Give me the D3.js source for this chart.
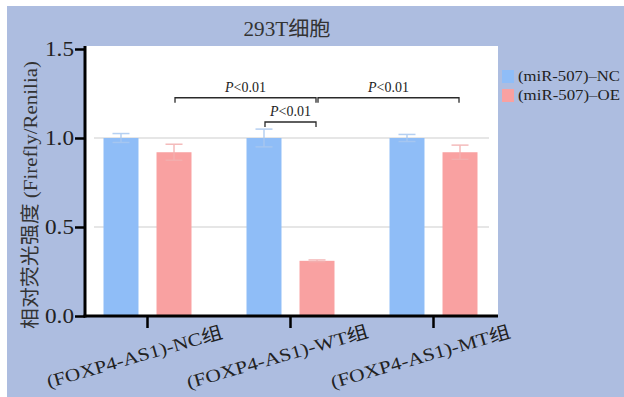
<!DOCTYPE html>
<html>
<head>
<meta charset="utf-8">
<script src="https://cdn.jsdelivr.net/npm/d3@7"></script>
<style>
  html, body { margin: 0; padding: 0; background: #ffffff; }
  svg { display: block; }
  text { font-family: "Liberation Serif", "Noto Sans CJK SC", serif; }
</style>
</head>
<body>
<svg id="chart" width="624" height="397"></svg>
<script>
// Groups (x categories) and series
const groups = ["(FOXP4-AS1)-NC组", "(FOXP4-AS1)-WT组", "(FOXP4-AS1)-MT组"];
const series = ["(miR-507)–NC", "(miR-507)–OE"];

// Relative luciferase activity (mean) and error per group, per series
const ncValues = [1.00, 1.00, 1.00];
const ncErrors = [0.025, 0.05, 0.02];
const oeValues = [0.92, 0.31, 0.92];
const oeErrors = [0.045, 0.005, 0.04];

const yTicks = [0, 0.5, 1.0, 1.5];
const gridValues = [0.5, 1.0];

// Significance comparisons: [groupIndex, seriesIndex] pairs and bracket height
const compFrom = [[0, 1], [1, 1], [1, 0]];
const compTo   = [[1, 1], [2, 1], [1, 1]];
const compLevel = [1.226, 1.226, 1.09];
const compText = ["P<0.01", "P<0.01", "P<0.01"];

const title = "293T细胞";
const yTitle = "相对荧光强度 (Firefly/Renilia)";

const colors = ["#8fbdf7", "#f9a1a1"];
const bg = "#adbde0";

const svg = d3.select("#chart");

// outer panel
svg.append("rect").attr("x", 7).attr("y", 6).attr("width", 617).attr("height", 391).attr("fill", bg);

const plotLeft = 86, plotRight = 498, plotTop = 46;

const y = d3.scaleLinear().domain([0, 1.5]).range([316, 49]);
const x = d3.scaleBand().domain(groups).range([76, 505]).padding(0);
const xSub = d3.scaleBand().domain(series).range([-44, 44]).paddingInner(0.34);

// white plotting area
svg.append("rect")
  .attr("x", plotLeft).attr("y", plotTop)
  .attr("width", plotRight - plotLeft).attr("height", y(0) - plotTop)
  .attr("fill", "#ffffff");

// grid
svg.append("g").selectAll("line").data(gridValues).join("line")
  .attr("x1", 94).attr("x2", 489)
  .attr("y1", d => y(d)).attr("y2", d => y(d))
  .attr("stroke", "#dedede").attr("stroke-width", 1.5);

// bars
const rows = [];
groups.forEach((g, i) => {
  rows.push({g, s: series[0], si: 0, v: ncValues[i], e: ncErrors[i]});
  rows.push({g, s: series[1], si: 1, v: oeValues[i], e: oeErrors[i]});
});
const cx = d => x(d.g) + x.bandwidth() / 2 + xSub(d.s) + xSub.bandwidth() / 2;

svg.append("g").selectAll("rect").data(rows).join("rect")
  .attr("x", d => x(d.g) + x.bandwidth() / 2 + xSub(d.s))
  .attr("width", xSub.bandwidth())
  .attr("y", d => y(d.v))
  .attr("height", d => y(0) - y(d.v))
  .attr("fill", d => colors[d.si]);

// error bars
const eb = svg.append("g").selectAll("g").data(rows).join("g")
  .attr("stroke", d => d.si === 0 ? "#a9c8f0" : "#f3b0b0")
  .attr("stroke-width", 1.5)
  .attr("opacity", 0.85);
eb.append("line")
  .attr("x1", cx).attr("x2", cx)
  .attr("y1", d => y(d.v - d.e)).attr("y2", d => y(d.v + d.e));
eb.append("line")
  .attr("x1", d => cx(d) - 8.5).attr("x2", d => cx(d) + 8.5)
  .attr("y1", d => y(d.v + d.e)).attr("y2", d => y(d.v + d.e));
eb.append("line")
  .attr("x1", d => cx(d) - 8.5).attr("x2", d => cx(d) + 8.5)
  .attr("y1", d => y(d.v - d.e)).attr("y2", d => y(d.v - d.e));

// significance brackets
const pos = p => cx({g: groups[p[0]], s: series[p[1]]});
const comps = compFrom.map((f, i) => ({x1: pos(f) + 1, x2: pos(compTo[i]) - 1, lv: compLevel[i], t: compText[i]}));
const br = svg.append("g").selectAll("g").data(comps).join("g");
br.append("path")
  .attr("d", d => `M${d.x1},${y(d.lv) + 5}V${y(d.lv)}H${d.x2}V${y(d.lv) + 5}`)
  .attr("fill", "none").attr("stroke", "#2a2a2a").attr("stroke-width", 1.3);
const bt = br.append("text")
  .attr("x", d => (d.x1 + d.x2) / 2)
  .attr("y", d => y(d.lv) - 6)
  .attr("text-anchor", "middle")
  .attr("font-size", 14).attr("fill", "#222");
bt.append("tspan").attr("font-style", "italic").text(d => d.t.slice(0, 1));
bt.append("tspan").text(d => d.t.slice(1));

// y axis
const yAxis = svg.append("g").attr("transform", `translate(${plotLeft - 1},0)`)
  .call(d3.axisLeft(y).tickValues(yTicks).tickFormat(d3.format(".1f")).tickSize(10).tickSizeOuter(0));
yAxis.select(".domain").remove();
yAxis.selectAll(".tick line").attr("stroke", "#000").attr("stroke-width", 2.5);
yAxis.selectAll(".tick text").attr("font-size", 20).attr("fill", "#222").attr("x", -11)
  .attr("textLength", 29).attr("lengthAdjust", "spacingAndGlyphs")
  .style("font-family", '"Liberation Serif", serif');
svg.append("line").attr("x1", plotLeft - 1).attr("x2", plotLeft - 1)
  .attr("y1", plotTop).attr("y2", y(0) + 1.5)
  .attr("stroke", "#000").attr("stroke-width", 3);

// x axis
const xAxis = svg.append("g").attr("transform", `translate(0,${y(0)})`)
  .call(d3.axisBottom(x).tickSize(12).tickSizeOuter(0).tickFormat(""));
xAxis.select(".domain").remove();
xAxis.selectAll(".tick line").attr("stroke", "#000").attr("stroke-width", 2.5);
svg.append("line").attr("x1", plotLeft - 2.5).attr("x2", plotRight)
  .attr("y1", y(0)).attr("y2", y(0))
  .attr("stroke", "#000").attr("stroke-width", 3);

// x labels (rotated)
const labelLen = [182, 188, 186];
svg.append("g").selectAll("text").data(groups).join("text")
  .attr("transform", (d) => `translate(${x(d) + x.bandwidth() / 2 - 13},357) rotate(-16)`)
  .attr("text-anchor", "middle")
  .attr("dominant-baseline", "central")
  .attr("font-size", 18).attr("fill", "#222")
  .attr("textLength", (d, i) => labelLen[i]).attr("lengthAdjust", "spacingAndGlyphs")
  .text(d => d);

// title
svg.append("text").attr("x", 287).attr("y", 36).attr("text-anchor", "middle")
  .attr("font-size", 20).attr("fill", "#333")
  .attr("textLength", 87).attr("lengthAdjust", "spacingAndGlyphs").text(title);

// y title
svg.append("text").attr("transform", "translate(30,195) rotate(-90)")
  .attr("text-anchor", "middle").attr("dominant-baseline", "central")
  .attr("font-size", 19.5).attr("fill", "#333")
  .attr("textLength", 268).attr("lengthAdjust", "spacingAndGlyphs").text(yTitle);

// legend
const lg = svg.append("g").selectAll("g").data(series).join("g")
  .attr("transform", (d, i) => `translate(502,${70 + i * 19})`);
lg.append("rect").attr("width", 12).attr("height", 13).attr("fill", (d, i) => colors[i]);
lg.append("text").attr("x", 16).attr("y", 11).attr("font-size", 14).attr("fill", "#222")
  .attr("textLength", 102).attr("lengthAdjust", "spacingAndGlyphs").text(d => d);
</script>
</body>
</html>
